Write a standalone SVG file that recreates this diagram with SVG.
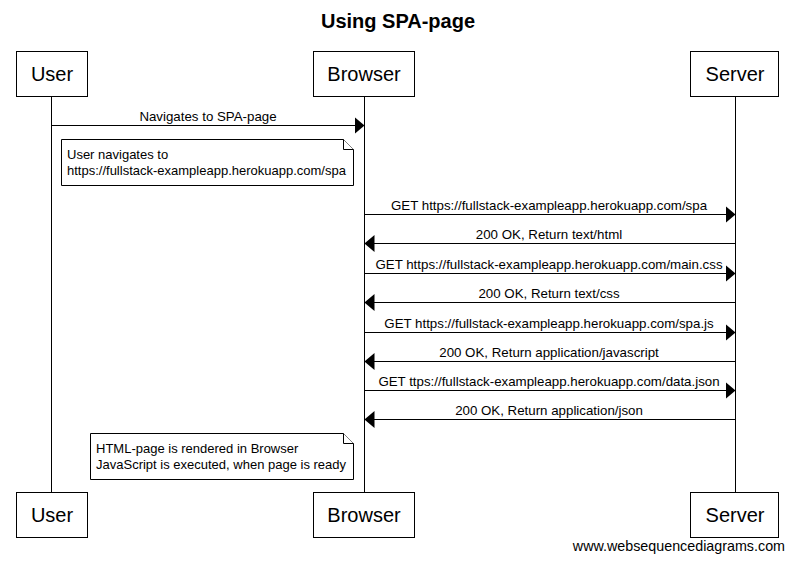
<svg xmlns="http://www.w3.org/2000/svg" width="794" height="562" viewBox="0 0 794 562">
<style>
text{font-family:"Liberation Sans",Arial,sans-serif;fill:#000}
.box{fill:#fff;stroke:#000;stroke-width:1}
.pname{font-size:20px;text-anchor:middle}
.life{stroke:#000;stroke-width:1}
.msg{stroke:#000;stroke-width:1;fill:none}
.lbl{font-size:13.3px;text-anchor:middle}
.note{fill:#fff;stroke:#000;stroke-width:1}
.ntext{font-size:13px}
</style>
<defs>
<marker id="ah" markerWidth="10" markerHeight="17" refX="10" refY="8.5" orient="auto" markerUnits="userSpaceOnUse">
<path d="M0,0 L10,8.5 L0,17 Z" fill="#000"/>
</marker>
</defs>
<rect width="794" height="562" fill="#fff"/>
<text x="398" y="28" font-size="20" font-weight="bold" text-anchor="middle">Using SPA-page</text>
<g id="lifelines">
<line class="life" x1="51.5" y1="97" x2="51.5" y2="492"/>
<line class="life" x1="364.5" y1="97" x2="364.5" y2="492"/>
<line class="life" x1="735.5" y1="97" x2="735.5" y2="492"/>
</g>
<g id="user">
<rect class="box" x="16.5" y="51.5" width="71" height="45"/>
<text class="pname" x="52" y="81">User</text>
<rect class="box" x="16.5" y="492.5" width="71" height="45"/>
<text class="pname" x="52" y="522">User</text>
</g>
<g id="browser">
<rect class="box" x="313.5" y="51.5" width="101" height="45"/>
<text class="pname" x="364" y="81">Browser</text>
<rect class="box" x="313.5" y="492.5" width="101" height="45"/>
<text class="pname" x="364" y="522">Browser</text>
</g>
<g id="server">
<rect class="box" x="690.5" y="51.5" width="88" height="45"/>
<text class="pname" x="735" y="81">Server</text>
<rect class="box" x="690.5" y="492.5" width="88" height="45"/>
<text class="pname" x="735" y="522">Server</text>
</g>
<g id="connectors">
<line class="msg" x1="51.5" y1="125.5" x2="364.5" y2="125.5" marker-end="url(#ah)"/>
<text class="lbl" x="208" y="121">Navigates to SPA-page</text>
<line class="msg" x1="364.5" y1="214.5" x2="735.5" y2="214.5" marker-end="url(#ah)"/>
<text class="lbl" x="549" y="210">GET https://fullstack-exampleapp.herokuapp.com/spa</text>
<line class="msg" x1="735.5" y1="243.5" x2="364.5" y2="243.5" marker-end="url(#ah)"/>
<text class="lbl" x="549" y="239">200 OK, Return text/html</text>
<line class="msg" x1="364.5" y1="273.5" x2="735.5" y2="273.5" marker-end="url(#ah)"/>
<text class="lbl" x="549" y="269">GET https://fullstack-exampleapp.herokuapp.com/main.css</text>
<line class="msg" x1="735.5" y1="302.5" x2="364.5" y2="302.5" marker-end="url(#ah)"/>
<text class="lbl" x="549" y="298">200 OK, Return text/css</text>
<line class="msg" x1="364.5" y1="332.5" x2="735.5" y2="332.5" marker-end="url(#ah)"/>
<text class="lbl" x="549" y="328">GET https://fullstack-exampleapp.herokuapp.com/spa.js</text>
<line class="msg" x1="735.5" y1="361.5" x2="364.5" y2="361.5" marker-end="url(#ah)"/>
<text class="lbl" x="549" y="357">200 OK, Return application/javascript</text>
<line class="msg" x1="364.5" y1="390.5" x2="735.5" y2="390.5" marker-end="url(#ah)"/>
<text class="lbl" x="549" y="386">GET ttps://fullstack-exampleapp.herokuapp.com/data.json</text>
<line class="msg" x1="735.5" y1="419.5" x2="364.5" y2="419.5" marker-end="url(#ah)"/>
<text class="lbl" x="549" y="415">200 OK, Return application/json</text>
</g>
<g id="note1">
<path class="note" d="M61.5,139.5 H343.5 L353.5,149.5 V185.5 H61.5 Z"/>
<path class="note" d="M343.5,139.5 V149.5 H353.5" fill="none"/>
<text class="ntext" x="67" y="159">User navigates to</text>
<text class="ntext" x="67" y="175">https://fullstack-exampleapp.herokuapp.com/spa</text>
</g>
<g id="note2">
<path class="note" d="M90.5,433.5 H343.5 L353.5,443.5 V479.5 H90.5 Z"/>
<path class="note" d="M343.5,433.5 V443.5 H353.5" fill="none"/>
<text class="ntext" x="96" y="453">HTML-page is rendered in Browser</text>
<text class="ntext" x="96" y="469">JavaScript is executed, when page is ready</text>
</g>
<text x="785" y="551" font-size="14.3" text-anchor="end">www.websequencediagrams.com</text>
</svg>
